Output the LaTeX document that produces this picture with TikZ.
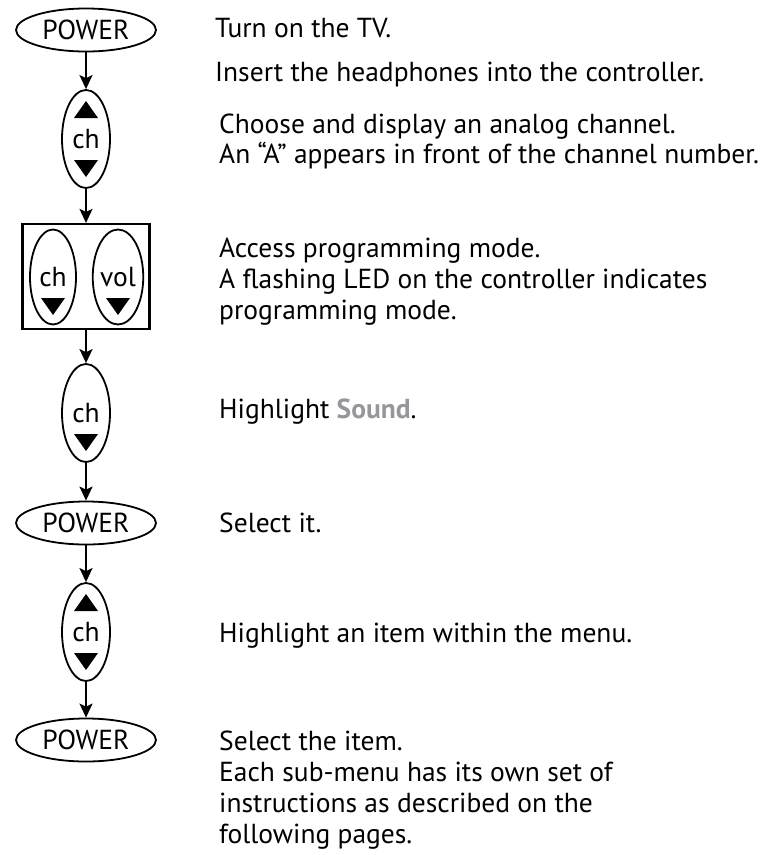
\documentclass[tikz,border=0pt]{standalone}
\usepackage{fontspec}
\setmainfont{PT Sans}
\usetikzlibrary{shapes.geometric,arrows.meta,calc}
\definecolor{soundgray}{RGB}{150,150,155}

\begin{document}
\begin{tikzpicture}[x=1pt,y=-1pt,
    font=\fontsize{27.5}{31}\selectfont,
    btn/.style={draw,line width=1.8pt,ellipse,inner sep=0pt},
    pwr/.style={btn,minimum width=140pt,minimum height=43pt},
    rock/.style={btn,minimum width=48pt,minimum height=98pt},
    flow/.style={line width=1.8pt,-{Stealth[length=14pt,width=13pt,inset=3pt]}},
    txt/.style={anchor=base west,inner sep=0pt}]
  \useasboundingbox (0,0) rectangle (763,855);
  % buttons down the left
  \node[pwr] (p1) at (86,30) {POWER};
  \node[rock] (c1) at (86,139) {ch};
  \node[draw,line width=2.2pt,minimum width=127pt,minimum height=105pt,inner sep=0pt] (prog) at (86,276.5) {};
  \node[rock,minimum width=46pt,minimum height=95pt] (pch) at (53,277) {ch};
  \node[rock,minimum width=46pt,minimum height=95pt] (pvol) at (118,277) {vol};
  \node[rock] (c2) at (86,413) {ch};
  \node[pwr] (p2) at (86,523) {POWER};
  \node[rock] (c3) at (86,632) {ch};
  \node[pwr] (p3) at (86,740) {POWER};
  % arrows between steps
  \foreach \a/\b in {p1/c1, c1/prog, prog/c2, c2/p2, p2/c3, c3/p3}
    \draw[flow] (\a) -- (\b);
  % up / down marks
  \foreach \b in {c1,c3}
    \fill ($(\b)+(-12,-21)$) -- ++(24,0) -- ++(-12,-17) -- cycle;
  \foreach \b in {c1,c2,c3,pch,pvol}
    \fill ($(\b)+(-12,21)$) -- ++(24,0) -- ++(-12,17) -- cycle;
  % instructions
  \foreach \x/\y/\t [count=\i] in {
      215/37/{Turn on the TV.},
      215/81/{Insert the headphones into the controller.},
      219/133/{Choose and display an analog channel.},
      219/163/{An “A” appears in front of the channel number.},
      219/257/{Access programming mode.},
      219/288/{A flashing LED on the controller indicates},
      219/319/{programming mode.},
      219/418/{Highlight \textbf{\color{soundgray}Sound}.},
      219/532/{Select it.},
      219/642/{Highlight an item within the menu.},
      219/750/{Select the item.},
      219/781/{Each sub-menu has its own set of},
      219/812/{instructions as described on the},
      219/843/{following pages.}}
    \node[txt] (s\i) at (\x,\y) {\t};
\end{tikzpicture}
\end{document}
